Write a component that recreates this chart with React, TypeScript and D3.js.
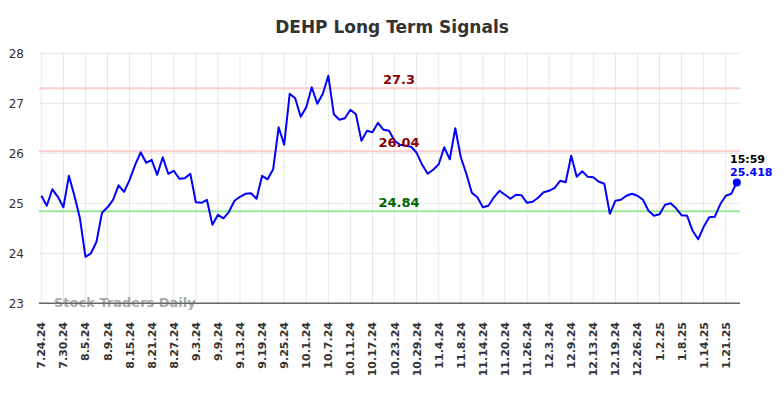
import {useEffect, useRef} from "react";
import * as d3 from "d3";

// daily closes, 7.24.24 .. 1.23.25 (one per trading day)
const closes = [
    25.15, 24.95, 25.28, 25.13, 24.92, 25.55, 25.15, 24.70, 23.93, 24.00,
    24.23, 24.81, 24.92, 25.07, 25.36, 25.23, 25.47, 25.77, 26.02, 25.81,
    25.87, 25.57, 25.92, 25.59, 25.65, 25.49, 25.50, 25.59, 25.02, 25.01,
    25.07, 24.57, 24.77, 24.70, 24.83, 25.05, 25.13, 25.19, 25.20, 25.09,
    25.55, 25.48, 25.68, 26.52, 26.17, 27.19, 27.10, 26.73, 26.92, 27.32,
    26.99, 27.19, 27.55, 26.78, 26.67, 26.70, 26.87, 26.78, 26.25, 26.45,
    26.42, 26.61, 26.47, 26.45, 26.25, 26.17, 26.15, 26.13, 26.01, 25.77,
    25.59, 25.67, 25.78, 26.12, 25.88, 26.50, 25.92, 25.59, 25.21, 25.12,
    24.92, 24.95, 25.12, 25.25, 25.17, 25.09, 25.17, 25.16, 25.01, 25.03,
    25.11, 25.22, 25.25, 25.31, 25.45, 25.42, 25.95, 25.53, 25.64, 25.53,
    25.52, 25.43, 25.39, 24.79, 25.05, 25.07, 25.15, 25.19, 25.15, 25.07,
    24.85, 24.75, 24.78, 24.97, 25.00, 24.90, 24.76, 24.75, 24.45, 24.28,
    24.53, 24.72, 24.73, 24.98, 25.15, 25.19, 25.418,
];

// one label every 4 trading days
const tickLabels = [
    "7.24.24", "7.30.24", "8.5.24", "8.9.24", "8.15.24", "8.21.24", "8.27.24", "9.3.24",
    "9.9.24", "9.13.24", "9.19.24", "9.25.24", "10.1.24", "10.7.24", "10.11.24", "10.17.24",
    "10.23.24", "10.29.24", "11.4.24", "11.8.24", "11.14.24", "11.20.24", "11.26.24", "12.3.24",
    "12.9.24", "12.13.24", "12.19.24", "12.26.24", "1.2.25", "1.8.25", "1.14.25", "1.21.25",
];
const tickStep = 4;

const yTicks = [23, 24, 25, 26, 27, 28];

const upperResistance = 27.3;
const lowerResistance = 26.04;
const support = 24.84;
const lastTime = "15:59";

export default function App() {

    const chartRef = useRef<SVGSVGElement>(null);

    useEffect(() => {
        const width = 784;
        const height = 398;
        const plotLeft = 39;
        const plotRight = 740;
        const font = "DejaVu Sans, sans-serif";

        if (!chartRef.current) {
            return;
        }

        const svg = d3.select(chartRef.current)
            .attr("width", width)
            .attr("height", height)
            .attr("viewBox", [0, 0, width, height]);
        svg.selectAll("*").remove();

        const xScale = d3.scaleLinear()
            .domain([0, closes.length - 1])
            .range([41.3, 736.8]);

        const yScale = d3.scaleLinear()
            .domain([23, 28])
            .range([303.3, 53.3]);

        // title
        svg.append("text")
            .attr("x", width / 2)
            .attr("y", 33)
            .attr("text-anchor", "middle")
            .attr("font-family", font)
            .attr("font-weight", "bold")
            .attr("font-size", 17)
            .attr("fill", "#333")
            .text("DEHP Long Term Signals");

        // grid
        svg.append("g")
            .selectAll("line")
            .data(yTicks.filter(d => d > 23))
            .join("line")
            .attr("x1", plotLeft)
            .attr("x2", plotRight)
            .attr("y1", d => yScale(d))
            .attr("y2", d => yScale(d))
            .attr("stroke", "#e6e6e6")
            .attr("stroke-width", 1);

        svg.append("g")
            .selectAll("line")
            .data(tickLabels)
            .join("line")
            .attr("x1", (d, i) => xScale(i * tickStep))
            .attr("x2", (d, i) => xScale(i * tickStep))
            .attr("y1", yScale(28))
            .attr("y2", yScale(23))
            .attr("stroke", "#e6e6e6")
            .attr("stroke-width", 1);

        // y labels
        svg.append("g")
            .selectAll("text")
            .data(yTicks)
            .join("text")
            .attr("x", 24)
            .attr("y", d => yScale(d) + 4.5)
            .attr("text-anchor", "end")
            .attr("font-family", font)
            .attr("font-size", 12)
            .attr("fill", "#333")
            .text(d => d);

        // x labels (rotated)
        svg.append("g")
            .selectAll("text")
            .data(tickLabels)
            .join("text")
            .attr("transform", (d, i) => `translate(${xScale(i * tickStep) + 4},322) rotate(-90)`)
            .attr("text-anchor", "end")
            .attr("font-family", font)
            .attr("font-weight", "bold")
            .attr("font-size", 11)
            .attr("fill", "#333")
            .text(d => d);

        // signal lines
        const levels = [
            {value: upperResistance, stroke: "#ffcccc", fill: "#8b0000"},
            {value: lowerResistance, stroke: "#ffcccc", fill: "#8b0000"},
            {value: support, stroke: "#99e699", fill: "#006400"},
        ];
        svg.append("g")
            .selectAll("line")
            .data(levels)
            .join("line")
            .attr("x1", plotLeft)
            .attr("x2", plotRight)
            .attr("y1", d => yScale(d.value))
            .attr("y2", d => yScale(d.value))
            .attr("stroke", d => d.stroke)
            .attr("stroke-width", 2);

        // watermark
        svg.append("text")
            .attr("x", 54)
            .attr("y", 307)
            .attr("font-family", font)
            .attr("font-weight", "bold")
            .attr("font-size", 13)
            .attr("fill", "#aaa")
            .text("Stock Traders Daily");

        // bottom axis line
        svg.append("line")
            .attr("x1", plotLeft)
            .attr("x2", plotRight)
            .attr("y1", yScale(23))
            .attr("y2", yScale(23))
            .attr("stroke", "#666")
            .attr("stroke-width", 1.5);

        // price line
        const line = d3.line<number>()
            .x((d, i) => xScale(i))
            .y(d => yScale(d));

        svg.append("path")
            .datum(closes)
            .attr("d", line)
            .attr("fill", "none")
            .attr("stroke", "#0000ff")
            .attr("stroke-width", 2)
            .attr("stroke-linejoin", "round");

        svg.append("g")
            .selectAll("text")
            .data(levels)
            .join("text")
            .attr("x", 399)
            .attr("y", d => yScale(d.value) - 4.5)
            .attr("text-anchor", "middle")
            .attr("font-family", font)
            .attr("font-weight", "bold")
            .attr("font-size", 13)
            .attr("fill", d => d.fill)
            .text(d => d.value);

        // last point
        const lastIndex = closes.length - 1;
        const lastValue = closes[lastIndex];
        svg.append("circle")
            .attr("cx", xScale(lastIndex))
            .attr("cy", yScale(lastValue))
            .attr("r", 4)
            .attr("fill", "#0000ff");

        svg.append("text")
            .attr("x", 730)
            .attr("y", 162.5)
            .attr("font-family", font)
            .attr("font-weight", "bold")
            .attr("font-size", 11)
            .attr("fill", "#000")
            .text(lastTime);

        svg.append("text")
            .attr("x", 730)
            .attr("y", 176)
            .attr("font-family", font)
            .attr("font-weight", "bold")
            .attr("font-size", 11)
            .attr("fill", "#0000ff")
            .text(lastValue);

    }, []);

    return (
        <svg ref={chartRef} style={{position: "absolute", left: 0, top: 0}}/>
    );
}
